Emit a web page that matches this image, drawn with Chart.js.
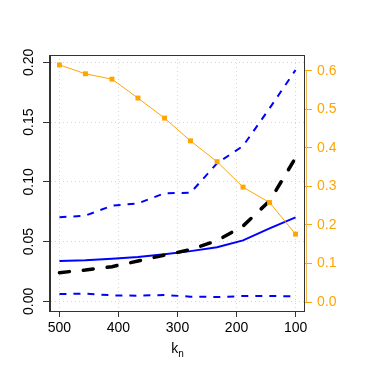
<!DOCTYPE html>
<html>
<head>
<meta charset="utf-8">
<script src="https://cdn.jsdelivr.net/npm/chart.js@4.4.1/dist/chart.umd.min.js"></script>
<style>
html,body{margin:0;padding:0;background:#fff;}
#wrap{width:379px;height:379px;}
</style>
</head>
<body>
<div id="wrap"><canvas id="kChart" width="379" height="379"></canvas></div>
<script>
// k_n values (x axis, reversed)
const kn = [500, 456, 411, 367, 322, 278, 233, 189, 144, 100];

// left axis series
const meanLine = [0.0337, 0.0343, 0.0357, 0.0370, 0.0393, 0.0420, 0.0452, 0.0510, 0.0610, 0.0703];
const upperBand = [0.0703, 0.0717, 0.0800, 0.0820, 0.0904, 0.0908, 0.1155, 0.1300, 0.1615, 0.1935];
const lowerBand = [0.0061, 0.0064, 0.0050, 0.0047, 0.0053, 0.0039, 0.0036, 0.0044, 0.0044, 0.0042];
const blackLine = [0.0240, 0.0262, 0.0290, 0.0337, 0.0387, 0.0432, 0.0508, 0.0630, 0.0840, 0.1200];

// right axis series
const orangeLine = [0.615, 0.592, 0.578, 0.529, 0.477, 0.418, 0.364, 0.298, 0.258, 0.176];

const xTicks = [500, 400, 300, 200, 100];
const yTicks = [0, 0.05, 0.10, 0.15, 0.20];
const y2Ticks = [0, 0.1, 0.2, 0.3, 0.4, 0.5, 0.6];

const ORANGE = '#FFA500';
const FAMILY = "'Liberation Sans', Arial, sans-serif";
const FONT = {family: FAMILY, size: 14};

function pts(ys){
  return kn.map((k, i) => ({x: k, y: ys[i]}));
}

// frame, axis lines and the k_n label
const framePlugin = {
  id: 'frame',
  afterDraw(chart){
    const c = chart.ctx;
    const a = chart.chartArea;
    const sy2 = chart.scales.y2;
    c.save();
    c.lineWidth = 1;
    c.strokeStyle = '#333';
    c.strokeRect(Math.round(a.left) - 0.5, Math.round(a.top) + 0.5, Math.round(a.right - a.left), Math.round(a.bottom - a.top));
    // right axis line
    c.strokeStyle = '#F2B553';
    c.beginPath();
    c.moveTo(Math.round(a.right) + 1.5, sy2.getPixelForValue(0));
    c.lineTo(Math.round(a.right) + 1.5, sy2.getPixelForValue(0.6));
    c.stroke();
    // x label
    c.fillStyle = '#000';
    c.textBaseline = 'alphabetic';
    c.font = '14px ' + FAMILY;
    const kw = c.measureText('k').width;
    c.font = '10px ' + FAMILY;
    const nw = c.measureText('n').width;
    const cx = (a.left + a.right) / 2 - (kw + nw) / 2;
    c.font = '14px ' + FAMILY;
    c.fillText('k', cx, 353);
    c.font = '10px ' + FAMILY;
    c.fillText('n', cx + kw, 357);
    c.restore();
  }
};

new Chart(document.getElementById('kChart'), {
  type: 'line',
  data: {
    datasets: [
      {
        data: pts(orangeLine), yAxisID: 'y2',
        borderColor: ORANGE, backgroundColor: ORANGE, borderWidth: 1,
        pointStyle: 'rect', pointRadius: 3.5, pointBorderWidth: 0
      },
      {
        data: pts(blackLine), yAxisID: 'y',
        borderColor: '#000', borderWidth: 3.5, borderDash: [10, 14],
        borderCapStyle: 'round', pointRadius: 0
      },
      {
        data: pts(meanLine), yAxisID: 'y',
        borderColor: '#0000FF', borderWidth: 2, pointRadius: 0
      },
      {
        data: pts(upperBand), yAxisID: 'y',
        borderColor: '#0000FF', borderWidth: 2, borderDash: [7, 7], pointRadius: 0
      },
      {
        data: pts(lowerBand), yAxisID: 'y',
        borderColor: '#0000FF', borderWidth: 2, borderDash: [7, 7], pointRadius: 0
      }
    ]
  },
  options: {
    responsive: false,
    animation: false,
    layout: {padding: {top: 55, left: 0, right: 0, bottom: 0}},
    plugins: {legend: {display: false}, tooltip: {enabled: false}},
    elements: {line: {tension: 0}},
    scales: {
      x: {
        type: 'linear', reverse: true, min: 84, max: 516,
        afterBuildTicks: s => { s.ticks = xTicks.map(v => ({value: v})); },
        afterFit: s => { s.height = 68; },
        grid: {color: '#d6d6d6', tickColor: '#333', tickLength: 6, tickBorderDash: []},
        border: {display: false, dash: [1, 3]},
        ticks: {font: FONT, color: '#000', padding: 3, maxRotation: 0, callback: v => String(v)}
      },
      y: {
        position: 'left', min: -0.0081, max: 0.2061,
        afterBuildTicks: s => { s.ticks = yTicks.map(v => ({value: v})); },
        afterFit: s => { s.width = 50; },
        grid: {color: '#d6d6d6', tickColor: '#333', tickLength: 7, tickBorderDash: []},
        border: {display: true, color: '#333', dash: [1, 3]},
        ticks: {font: FONT, color: '#000', padding: 0, minRotation: 90, maxRotation: 90,
          crossAlign: 'center', callback: v => v.toFixed(2)}
      },
      y2: {
        position: 'right', min: -0.0233, max: 0.6407,
        afterBuildTicks: s => { s.ticks = y2Ticks.map(v => ({value: v})); },
        afterFit: s => { s.width = 74; },
        grid: {drawOnChartArea: false, color: ORANGE, tickColor: ORANGE, tickLength: 7},
        border: {display: false},
        ticks: {font: FONT, color: ORANGE, padding: 5, callback: v => v.toFixed(1)}
      }
    }
  },
  plugins: [framePlugin]
});
</script>
</body>
</html>
